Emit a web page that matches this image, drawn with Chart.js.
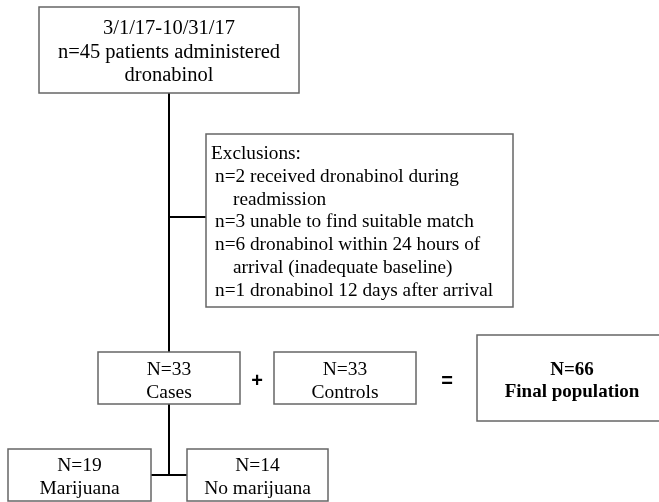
<!DOCTYPE html>
<html>
<head>
<meta charset="utf-8">
<title>Study population flowchart</title>
<script src="https://cdn.jsdelivr.net/npm/chart.js@4/dist/chart.umd.min.js"></script>
<style>
    html, body { margin: 0; padding: 0; background: #fff; }
    #flow { display: block; }
</style>
</head>
<body>
<canvas id="flow" width="659" height="502"></canvas>
<script>
// Flowchart content
const periodLabel = '3/1/17-10/31/17';
const screenedCount = 45;
const screenedLines = ['n=' + screenedCount + ' patients administered', 'dronabinol'];

const exclusionCounts = [2, 3, 6, 1];
const exclusionReasons = [
    ['received dronabinol during', 'readmission'],
    ['unable to find suitable match'],
    ['dronabinol within 24 hours of', 'arrival (inadequate baseline)'],
    ['dronabinol 12 days after arrival']
];

const groupLabels = ['Cases', 'Controls'];
const groupCounts = [33, 33];
const totalLabel = 'Final population';
const totalCount = 66;

const subgroupLabels = ['Marijuana', 'No marijuana'];
const subgroupCounts = [19, 14];

// Layout in canvas units (x right, y down)
const boxes = {
    screened: [39, 7, 299, 93],
    exclusions: [206, 134, 513, 307],
    cases: [98, 352, 240, 404],
    controls: [274, 352, 416, 404],
    total: [477, 335, 667, 421],
    marijuana: [8, 449, 151, 501],
    noMarijuana: [187, 449, 328, 501]
};
const connectors = [
    [[169, 93], [169, 352]],
    [[169, 217], [206, 217]],
    [[169, 404], [169, 475]],
    [[151, 475], [187, 475]]
];

document.addEventListener('DOMContentLoaded', () => {
    const serif = '"Liberation Serif", "Times New Roman", serif';
    const sans = '"Liberation Sans", Arial, sans-serif';

    function px(chart, x) { return chart.scales.x.getPixelForValue(x); }
    function py(chart, y) { return chart.scales.y.getPixelForValue(y); }

    function drawBox(chart, b) {
        const ctx = chart.ctx;
        const x1 = px(chart, b[0]), y1 = py(chart, b[1]);
        const x2 = px(chart, b[2]), y2 = py(chart, b[3]);
        ctx.fillStyle = '#fff';
        ctx.fillRect(x1, y1, x2 - x1, y2 - y1);
        ctx.strokeStyle = '#666';
        ctx.lineWidth = 1.5;
        ctx.strokeRect(x1, y1, x2 - x1, y2 - y1);
    }

    function centerLines(chart, b, lines, firstY, step, font) {
        const ctx = chart.ctx;
        const cx = px(chart, (b[0] + b[2]) / 2);
        ctx.font = font;
        ctx.fillStyle = '#000';
        ctx.textAlign = 'center';
        ctx.textBaseline = 'middle';
        lines.forEach((t, i) => ctx.fillText(t, cx, py(chart, firstY + i * step)));
    }

    const flowPlugin = {
        id: 'flowBoxes',
        afterDatasetsDraw(chart) {
            const ctx = chart.ctx;
            ctx.save();
            Object.values(boxes).forEach(b => drawBox(chart, b));

            centerLines(chart, [39, 0, 299], [periodLabel].concat(screenedLines), 29, 23.5, '20.5px ' + serif);

            // exclusions, left aligned with hanging indent
            ctx.font = '19.3px ' + serif;
            ctx.fillStyle = '#000';
            ctx.textAlign = 'left';
            ctx.textBaseline = 'middle';
            let y = 154;
            ctx.fillText('Exclusions:', px(chart, 211), py(chart, y));
            exclusionCounts.forEach((n, i) => {
                exclusionReasons[i].forEach((t, j) => {
                    y += 22.8;
                    const text = j === 0 ? 'n=' + n + ' ' + t : t;
                    ctx.fillText(text, px(chart, j === 0 ? 215 : 233), py(chart, y));
                });
            });

            groupLabels.forEach((g, i) => {
                const b = i === 0 ? boxes.cases : boxes.controls;
                centerLines(chart, b, ['N=' + groupCounts[i], g], 370, 22.5, '19.5px ' + serif);
            });
            centerLines(chart, [477, 0, 667], ['N=' + totalCount, totalLabel], 370, 22.5, 'bold 19px ' + serif);

            subgroupLabels.forEach((g, i) => {
                const b = i === 0 ? boxes.marijuana : boxes.noMarijuana;
                centerLines(chart, b, ['N=' + subgroupCounts[i], g], 466, 22.5, '19.5px ' + serif);
            });

            // operators
            ctx.font = 'bold 20px ' + sans;
            ctx.textAlign = 'center';
            ctx.fillText('+', px(chart, 257), py(chart, 381));
            ctx.fillText('=', px(chart, 447), py(chart, 381));
            ctx.restore();
        }
    };

    new Chart(document.getElementById('flow'), {
        type: 'scatter',
        data: {
            datasets: connectors.map(seg => ({
                data: seg.map(p => ({ x: p[0], y: p[1] })),
                showLine: true,
                borderColor: '#000',
                borderWidth: 2,
                pointRadius: 0,
                fill: false
            }))
        },
        options: {
            responsive: false,
            animation: false,
            layout: { padding: 0 },
            plugins: {
                legend: { display: false },
                tooltip: { enabled: false }
            },
            scales: {
                x: { type: 'linear', min: 0, max: 659, display: false },
                y: { type: 'linear', min: 0, max: 502, reverse: true, display: false }
            }
        },
        plugins: [flowPlugin]
    });
});
</script>
</body>
</html>
